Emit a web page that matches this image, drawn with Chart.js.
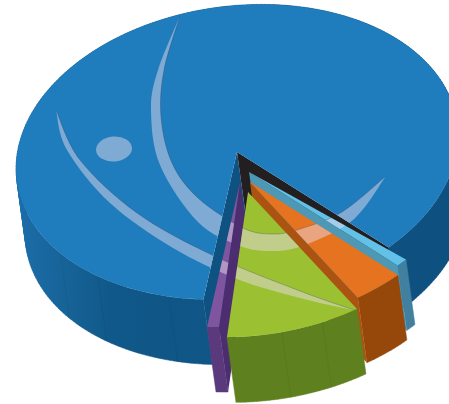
<!DOCTYPE html>
<html>
<head>
<meta charset="utf-8">
<title>Pie</title>
<script src="https://cdn.jsdelivr.net/npm/chart.js@4"></script>
<style>
    html, body { margin: 0; padding: 0; background: #ffffff; }
    canvas { display: block; }
</style>
</head>
<body>
<canvas id="pieChart" width="449" height="404"></canvas>
<script>
// Slice sizes, clockwise from the left edge of the cut-out
const sliceNames = ['Main', 'Sky', 'Orange', 'Green', 'Purple'];
const sliceValues = [304.8, 3.1, 13.3, 35.6, 3.2];

// Face and wall colours per slice
const faceColors = ['#1f7dbd', '#63c1e8', '#e6731f', '#9bc133', '#7f559f'];
const outerWallColors = ['#125a93', '#41809e', '#96480a', '#5f801f', '#5a3a7c'];
const startWallColors = ['#0e5282', null, null, null, '#4c2d6f'];
const endWallColors = ['#231f20', '#4d98b5', '#ab5412', null, null];

// How the exploded slices sit: apex shift in disc units, radius factor
const apexShift = [[0, 0], [0.042, 0.147], [0.0405, 0.215], [0.0257, 0.281], [-0.004, 0.206]];
const radiusScale = [1, 0.98, 0.975, 0.985, 0.983];
const paintOrder = [0, 1, 2, 4, 3];
const seamAngles = [[148, 134, 113], [], [], [86, 75], []];

// Disc projection on the page
const disc = { cx: 237, cy: 152, rx: 222, ry: 146, tilt: -7.5 * Math.PI / 180 };
const depth = { x: 9, y: 65 };
const mainOverlap = 3.1 * Math.PI / 180;

// Pale swirl printed across the top of the disc, each band is two edges tip to tip
const swirlInner = [
    [[180, 16], [164, 70], [161, 117], [172, 163], [198, 198], [243, 228], [273, 234], [300, 229], [342, 212], [386, 176]],
    [[180, 16], [158, 70], [151, 110], [160, 165], [198, 222], [240, 246], [273, 251], [305, 245], [353, 220], [386, 176]]
];
const swirlOuter = [
    [[56, 110], [80, 160], [137, 213], [212, 255], [300, 291], [357, 311]],
    [[56, 110], [67, 150], [110, 203], [173, 248], [237, 279], [300, 298], [357, 311]]
];
const swirlColor = 'rgba(235, 220, 238, 0.47)';
const swirlEdge = 'rgba(45, 55, 80, 0.28)';

function project(u, v) {
    const x = u * disc.rx, y = v * disc.ry;
    const c = Math.cos(disc.tilt), s = Math.sin(disc.tilt);
    return [disc.cx + x * c - y * s, disc.cy + x * s + y * c];
}

// Screen point on a slice: angle in radians, rho 0 at apex, 1 at the rim
function slicePoint(i, angle, rho) {
    return project(
        apexShift[i][0] + rho * radiusScale[i] * Math.cos(angle),
        apexShift[i][1] + rho * radiusScale[i] * Math.sin(angle)
    );
}

function addPoly(ctx, pts) {
    pts.forEach((p, k) => k ? ctx.lineTo(p[0], p[1]) : ctx.moveTo(p[0], p[1]));
    ctx.closePath();
}

function fillPoly(ctx, pts, color) {
    ctx.beginPath();
    addPoly(ctx, pts);
    ctx.fillStyle = color;
    ctx.fill();
}

function rimPoints(i, arc) {
    const pts = [];
    const steps = Math.max(2, Math.ceil((arc.endAngle - arc.startAngle) / 0.02));
    for (let k = 0; k <= steps; k++) {
        pts.push(slicePoint(i, arc.startAngle + (arc.endAngle - arc.startAngle) * k / steps, 1));
    }
    return pts;
}

function drop(p) {
    return [p[0] + depth.x, p[1] + depth.y];
}

// The rim swept along the depth vector, one quad per step, all wound the same way
function fillSweep(ctx, rim, color) {
    ctx.beginPath();
    for (let k = 0; k < rim.length - 1; k++) {
        const a = rim[k], b = rim[k + 1];
        const turn = (b[0] - a[0]) * depth.y - (b[1] - a[1]) * depth.x;
        const quad = [a, b, drop(b), drop(a)];
        addPoly(ctx, turn > 0 ? quad : quad.reverse());
    }
    ctx.fillStyle = color;
    ctx.fill();
    // closes hairlines between the quads
    ctx.strokeStyle = color;
    ctx.lineWidth = 0.5;
    ctx.stroke();
}

function drawWalls(ctx, i, arc) {
    const rim = rimPoints(i, arc);
    const apex = slicePoint(i, 0, 0);

    let outer = outerWallColors[i];
    if (i === 0) {
        outer = ctx.createLinearGradient(20, 0, 449, 0);
        outer.addColorStop(0, '#1b6ca8');
        outer.addColorStop(0.12, '#166296');
        outer.addColorStop(0.21, '#105889');
        outer.addColorStop(1, '#0e5080');
    }
    fillSweep(ctx, rim, outer);

    if (startWallColors[i]) {
        const a = slicePoint(i, arc.startAngle, 1);
        fillPoly(ctx, [apex, a, drop(a), drop(apex)], startWallColors[i]);
    }
    if (endWallColors[i]) {
        const b = slicePoint(i, arc.endAngle, 1);
        fillPoly(ctx, [apex, b, drop(b), drop(apex)], endWallColors[i]);
    }

    seamAngles[i].forEach(deg => {
        const p = slicePoint(i, deg * Math.PI / 180, 1);
        const q = drop(p);
        ctx.beginPath();
        ctx.moveTo(p[0], p[1]);
        ctx.lineTo(q[0], q[1]);
        ctx.strokeStyle = 'rgba(0, 0, 0, 0.04)';
        ctx.lineWidth = 1.5;
        ctx.stroke();
    });
}

// Catmull-Rom through the points, continuing from the current path position
function curveThrough(ctx, pts) {
    for (let k = 0; k < pts.length - 1; k++) {
        const p0 = pts[Math.max(k - 1, 0)], p1 = pts[k], p2 = pts[k + 1], p3 = pts[Math.min(k + 2, pts.length - 1)];
        ctx.bezierCurveTo(
            p1[0] + (p2[0] - p0[0]) / 6, p1[1] + (p2[1] - p0[1]) / 6,
            p2[0] - (p3[0] - p1[0]) / 6, p2[1] - (p3[1] - p1[1]) / 6,
            p2[0], p2[1]
        );
    }
}

function drawSwirl(ctx, i, arc) {
    const outline = [slicePoint(i, 0, 0)].concat(rimPoints(i, arc));
    ctx.save();
    ctx.beginPath();
    addPoly(ctx, outline);
    ctx.clip();

    ctx.beginPath();
    [swirlInner, swirlOuter].forEach(band => {
        ctx.moveTo(band[0][0][0], band[0][0][1]);
        curveThrough(ctx, band[0]);
        curveThrough(ctx, band[1].slice().reverse());
        ctx.closePath();
    });
    ctx.moveTo(132, 149);
    ctx.ellipse(114, 149, 18, 12.5, -0.08, 0, Math.PI * 2);
    ctx.fillStyle = swirlColor;
    ctx.fill();

    // soft dark line on the upper edge of each band
    [swirlInner, swirlOuter].forEach(band => {
        ctx.beginPath();
        ctx.moveTo(band[0][0][0], band[0][0][1]);
        curveThrough(ctx, band[0]);
        ctx.strokeStyle = swirlEdge;
        ctx.lineWidth = 1;
        ctx.stroke();
    });
    ctx.restore();
}

// Stacks each arc into a solid wedge, back to front
const solidPie = {
    id: 'solidPie',
    afterDatasetsUpdate(chart) {
        const arcs = chart.getDatasetMeta(0).data;
        arcs.forEach((arc, i) => {
            arc.baseRadius = arc.baseRadius || arc.outerRadius;
            arc.outerRadius = arc.baseRadius * radiusScale[i];
        });
        arcs[0].endAngle += mainOverlap;
    },
    beforeDatasetDraw(chart) {
        const ctx = chart.ctx;
        const arcs = chart.getDatasetMeta(0).data;
        paintOrder.forEach(i => {
            const arc = arcs[i];
            const R = arc.baseRadius;
            drawWalls(ctx, i, arc);
            ctx.save();
            ctx.translate(disc.cx, disc.cy);
            ctx.rotate(disc.tilt);
            ctx.scale(disc.rx / R, disc.ry / R);
            ctx.translate(apexShift[i][0] * R - arc.x, apexShift[i][1] * R - arc.y);
            arc.draw(ctx);
            ctx.restore();
            drawSwirl(ctx, i, arc);
        });
        return false;
    }
};

new Chart(document.getElementById('pieChart'), {
    type: 'pie',
    data: {
        labels: sliceNames,
        datasets: [{
            data: sliceValues,
            backgroundColor: faceColors,
            borderWidth: 0
        }]
    },
    options: {
        responsive: false,
        animation: false,
        events: [],
        rotation: 193.7,
        plugins: { legend: { display: false }, tooltip: { enabled: false } }
    },
    plugins: [solidPie]
});
</script>
</body>
</html>
